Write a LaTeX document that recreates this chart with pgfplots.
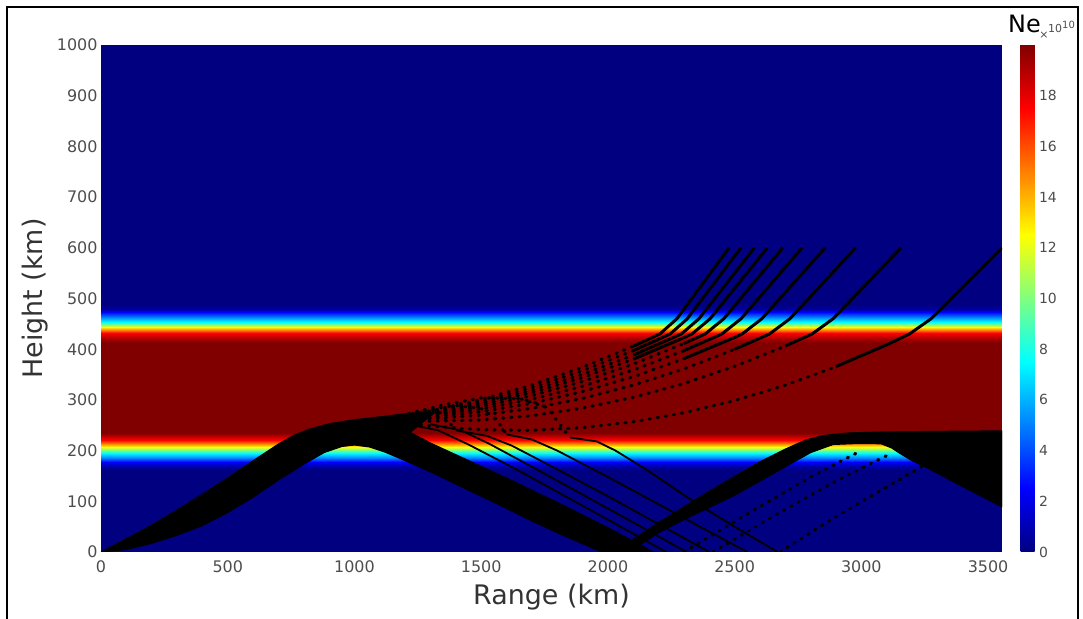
\documentclass[border=0pt]{standalone}
\usepackage{fontspec}
\setmainfont{DejaVu Sans}
\usepackage{pgfplots}
\usepackage{pgfplotstable}
\pgfplotsset{compat=1.18}

\definecolor{ticktext}{RGB}{77,77,77}
\definecolor{labeltext}{RGB}{51,51,51}

% electron density profile (x 1e10), uniform in range
\pgfplotstableread{
x y c
0 0 0
3555 0 0
0 160 0
3555 160 0
0 168 0.5
3555 168 0.5
0 178 2.5
3555 178 2.5
0 186 5
3555 186 5
0 195 7.5
3555 195 7.5
0 207 12.5
3555 207 12.5
0 221 17.5
3555 221 17.5
0 235 20
3555 235 20
0 412 20
3555 412 20
0 420 19.3
3555 420 19.3
0 432 17.5
3555 432 17.5
0 444 12.5
3555 444 12.5
0 454 7.5
3555 454 7.5
0 463 5
3555 463 5
0 473 2.5
3555 473 2.5
0 480 0.5
3555 480 0.5
0 490 0
3555 490 0
0 1000 0
3555 1000 0
}\nedata

\pgfplotsset{
  ray/.style={black, line width=3bp, line join=round, no markers},
  thinray/.style={black, line width=1.8bp, line join=round, no markers},
  dotray/.style={black, line width=3.2bp, line cap=round, dash pattern=on 1.2bp off 7bp, no markers},
  band/.style={fill=black, draw=black, line width=1bp, line join=round, no markers},
}

\begin{document}
\begin{tikzpicture}
\useasboundingbox (-101bp,-67bp) rectangle (982bp,552bp);
\draw[black, line width=1.2bp] (-94bp,-67bp) -- (-94bp,545bp) -- (977bp,545bp) -- (977bp,-67bp);
\begin{axis}[
  at={(0,0)}, anchor=south west,
  width=901bp, height=507bp, scale only axis,
  xmin=0, xmax=3555, ymin=0, ymax=1000,
  xtick={0,500,...,3500}, ytick={0,100,...,1000},
  axis line style={draw=none}, tick style={draw=none},
  /pgf/number format/assume math mode=true,
  /pgf/number format/1000 sep={},
  ticklabel style={font=\fontsize{16}{16}\selectfont, text=ticktext},
  xticklabel style={yshift=-5bp},
  xlabel={Range (km)}, ylabel={Height (km)},
  every axis x label/.style={at={(axis description cs:0.5,0)}, yshift=-45bp, anchor=center, font=\fontsize{27}{27}\selectfont, text=labeltext},
  every axis y label/.style={at={(axis description cs:0,0.5)}, xshift=-66bp, rotate=90, anchor=center, font=\fontsize{27}{27}\selectfont, text=labeltext},
  colormap/jet,
  point meta min=0, point meta max=20,
  colorbar,
  colorbar style={
    at={(parent axis.north east)}, anchor=north west, xshift=10bp,
    scale only axis, width=15bp, height=507bp,
    ymin=0, ymax=20, ytick={0,2,...,18},
    axis line style={draw=none}, tick style={draw=none},
    /pgf/number format/assume math mode=true,
    yticklabel style={font=\fontsize{14}{14}\selectfont, text=ticktext},
  },
]
\addplot[surf, shader=interp, mesh/cols=2, point meta=explicit] table[x=x, y=y, meta=c] {\nedata};

% first hop: dense bundle rising from the transmitter and coming back down
\addplot[band] coordinates {
(0,0) (100,5) (200,17) (300,33) (400,52) (500,78) (600,108) (700,142) (800,173)
(880,196) (950,208) (1000,211) (1060,207) (1120,197) (1168,187) (1300,158)
(1450,122) (1600,86) (1693,63) (1800,38) (1957,4) (1975,0) (2180,0) (2000,48)
(1800,98) (1600,146) (1400,192) (1300,215) (1220,236) (1260,252) (1320,276)
(1200,273) (1126,268) (1000,261) (900,253) (820,242) (760,230) (700,213)
(600,180) (500,146) (400,114) (300,83) (200,53) (100,26) (0,0)
};

% second hop: dense bundle from ground reflection
\addplot[band] coordinates {
(2020,0) (2200,58) (2400,120) (2600,178) (2700,203) (2780,221) (2850,230)
(2950,235) (3100,237) (3300,238) (3555,239) (3555,89) (3450,116) (3350,142)
(3260,166) (3200,180) (3150,195) (3120,205) (3080,213) (3040,214) (2990,214)
(2889,212) (2800,196) (2707,170) (2500,112) (2297,63) (2200,38) (2130,15) (2100,0) (2020,0)
};

% first hop: separate rays reflected higher up
\addplot[thinray] coordinates {(1230,250) (1330,240) (1450,212) (1650,160) (1850,105) (2050,50) (2230,0)};
\addplot[thinray] coordinates {(1300,252) (1420,240) (1530,214) (1730,160) (1930,105) (2130,50) (2310,0)};
\addplot[thinray] coordinates {(1400,240) (1523,229) (1620,210) (1800,163) (2000,110) (2200,55) (2400,0)};
\addplot[thinray] coordinates {(1600,232) (1700,222) (1800,200) (2000,148) (2200,94) (2400,40) (2550,0)};
\addplot[thinray] coordinates {(1850,226) (1957,218) (2030,200) (2150,163) (2352,95) (2500,50) (2670,0)};

% rays turning back down inside the layer
\addplot[dotray] coordinates {(1150,264) (1300,282) (1400,289) (1500,283) (1560,262) (1600,232)};
\addplot[dotray] coordinates {(1150,264) (1350,290) (1500,304) (1650,303) (1760,285) (1850,226)};
\addplot[dotray] coordinates {(1150,264) (1250,278) (1330,280) (1400,240)};

% second hop: sparse rays
\addplot[dotray] coordinates {(2300,0) (2550,75) (2800,148) (3000,200)};
\addplot[dotray] coordinates {(2415,0) (2650,70) (2900,140) (3100,190)};
\addplot[dotray] coordinates {(2680,0) (2900,70) (3100,128) (3244,170)};

% penetrating rays: inside the layer
\addplot[dotray] coordinates {(1100,262) (1300,278.2) (1500,300.7) (1700,329.4) (1900,364.5) (2100,405.8)};
\addplot[dotray] coordinates {(1100,262) (1300,276.5) (1500,297.2) (1700,324.2) (1900,357.5) (2100,397.1)};
\addplot[dotray] coordinates {(1100,262) (1300,274.7) (1500,293.6) (1700,318.9) (1900,350.4) (2100,388.2)};
\addplot[dotray] coordinates {(1100,262) (1300,273.1) (1500,290.4) (1700,314.1) (1900,344.0) (2100,380.2)};
\addplot[dotray] coordinates {(1100,262) (1300,271.2) (1500,286.6) (1700,308.3) (1900,336.3) (2100,370.6) (2300,411.2)};
\addplot[dotray] coordinates {(1100,262) (1300,268.8) (1500,281.9) (1700,301.3) (1900,327.0) (2100,358.9) (2300,397.1)};
\addplot[dotray] coordinates {(1100,262) (1300,266.2) (1500,276.6) (1700,293.4) (1900,316.4) (2100,345.7) (2300,381.3)};
\addplot[dotray] coordinates {(1100,262) (1300,262.8) (1500,270.0) (1700,283.4) (1900,303.0) (2100,329.0) (2300,361.2) (2500,399.8)};
\addplot[dotray] coordinates {(1100,262) (1300,258.0) (1500,260.4) (1700,269.0) (1900,283.8) (2100,305.0) (2300,332.4) (2500,366.2) (2700,406.2)};
\addplot[dotray] coordinates {(1100,262) (1300,248.4) (1500,241.1) (1700,240.0) (1900,245.3) (2100,256.8) (2300,274.6) (2500,298.7) (2700,329.0) (2900,365.7)};

% penetrating rays: top of the layer and above
\addplot[ray] coordinates {(2100,405.8) (2205,430) (2272,460) (2478,600)};
\addplot[ray] coordinates {(2100,397.1) (2246,430) (2313,460) (2525,600)};
\addplot[ray] coordinates {(2100,388.2) (2290,430) (2359,460) (2578,600)};
\addplot[ray] coordinates {(2100,380.2) (2300,422.7) (2332,430) (2403,460) (2629,600)};
\addplot[ray] coordinates {(2300,411.2) (2384,430) (2457,460) (2690,600)};
\addplot[ray] coordinates {(2300,397.1) (2450,430) (2525,460) (2766,600)};
\addplot[ray] coordinates {(2300,381.3) (2500,423.1) (2530,430) (2607,460) (2857,600)};
\addplot[ray] coordinates {(2500,399.8) (2638,430) (2718,460) (2977,600)};
\addplot[ray] coordinates {(2700,406.2) (2806,430) (2888,460) (3157,600)};
\addplot[ray] coordinates {(2900,365.7) (3100,408.6) (3190,430) (3275,460) (3555,600)};
\end{axis}
\node[anchor=base west, font=\fontsize{24}{24}\selectfont, text=black, inner sep=0pt] at (907bp,519bp) {Ne};
\node[font=\fontsize{11}{11}\selectfont, text=ticktext, inner sep=0pt] at (943bp,517bp) {×};
\node[anchor=base west, font=\fontsize{11}{11}\selectfont, text=ticktext, inner sep=0pt] at (947bp,519bp) {10};
\node[anchor=base west, font=\fontsize{10}{10}\selectfont, text=ticktext, inner sep=0pt] at (961bp,523bp) {10};
\end{tikzpicture}
\end{document}
